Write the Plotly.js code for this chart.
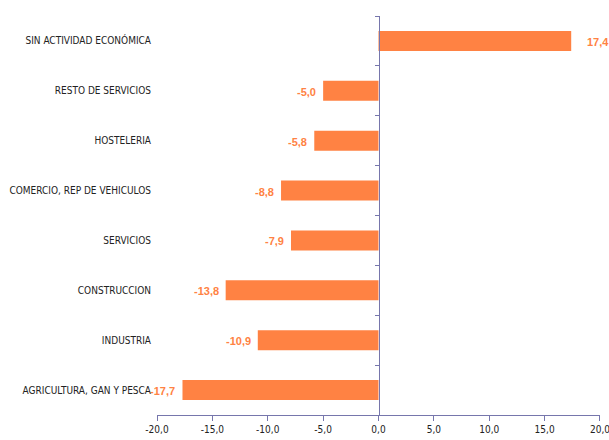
<!DOCTYPE html>
<html><head><meta charset="utf-8">
<script src="https://cdn.plot.ly/plotly-3.0.1.min.js"></script>
<style>html,body{margin:0;padding:0;background:#fff}#chart{width:609px;height:440px}</style>
</head><body><div id="chart"></div>
<script>
var categories = ["SIN ACTIVIDAD ECONÓMICA","RESTO DE SERVICIOS","HOSTELERIA","COMERCIO, REP DE VEHICULOS","SERVICIOS","CONSTRUCCION","INDUSTRIA","AGRICULTURA, GAN Y PESCA"];
var values = [17.4, -5.0, -5.8, -8.8, -7.9, -13.8, -10.9, -17.7];
var xTicks = [-20, -15, -10, -5, 0, 5, 10, 15, 20];

var barColor = '#ff8243';
var axisColor = '#7676ac';
var fmt = function(v){ return v.toFixed(1).replace('.', ','); };

var traces = [
  {type:'bar', orientation:'h', x:values, y:categories, marker:{color:barColor}, width:0.4, hoverinfo:'skip', xaxis:'x', yaxis:'y'},
  {type:'scatter', mode:'markers', x:values.map(function(){return 0;}), y:categories, marker:{opacity:0}, hoverinfo:'skip', showlegend:false, xaxis:'x', yaxis:'y2'}
];

var annotations = values.map(function(v,i){
  return {x:v, y:categories[i], xref:'x', yref:'y', text:fmt(v), showarrow:false,
    xanchor: v>0 ? 'left':'right', xshift: v>0 ? 14 : -5, yshift:-1,
    font:{family:'Liberation Sans, Arial, sans-serif', size:11, color:barColor, weight:'bold'}};
});

var layout = {
  width:609, height:440,
  margin:{l:157, r:9, t:16, b:25},
  paper_bgcolor:'#fff', plot_bgcolor:'#fff',
  showlegend:false,
  separators:',.',
  xaxis:{range:[-20.001,20.001], tickvals:xTicks, ticktext:xTicks.map(fmt), showgrid:false, zeroline:false,
    showline:true, linecolor:axisColor, linewidth:1, ticks:'outside', ticklen:5, tickcolor:axisColor,
    ticklabeloverflow:'allow',
    tickfont:{family:'DejaVu Sans Condensed, DejaVu Sans, sans-serif', size:10, color:'#222'}, fixedrange:true},
  yaxis:{type:'category', categoryorder:'array', categoryarray:categories, range:[7.5,-0.5],
    showline:false, ticks:'', showgrid:false, zeroline:false, anchor:'x',
    tickfont:{family:'DejaVu Sans Condensed, sans-serif', size:10, color:'#222'}, ticklabelstandoff:5},
  yaxis2:{type:'category', categoryorder:'array', categoryarray:categories, range:[7.5,-0.5], overlaying:'y',
    anchor:'free', position:0.5, showline:true, linecolor:axisColor, linewidth:1, ticks:'outside', ticklen:4,
    tickcolor:axisColor, tickson:'boundaries', showticklabels:false, showgrid:false, zeroline:false},
  annotations:annotations
};
Plotly.newPlot('chart', traces, layout, {displayModeBar:false, staticPlot:true});
</script></body></html>
